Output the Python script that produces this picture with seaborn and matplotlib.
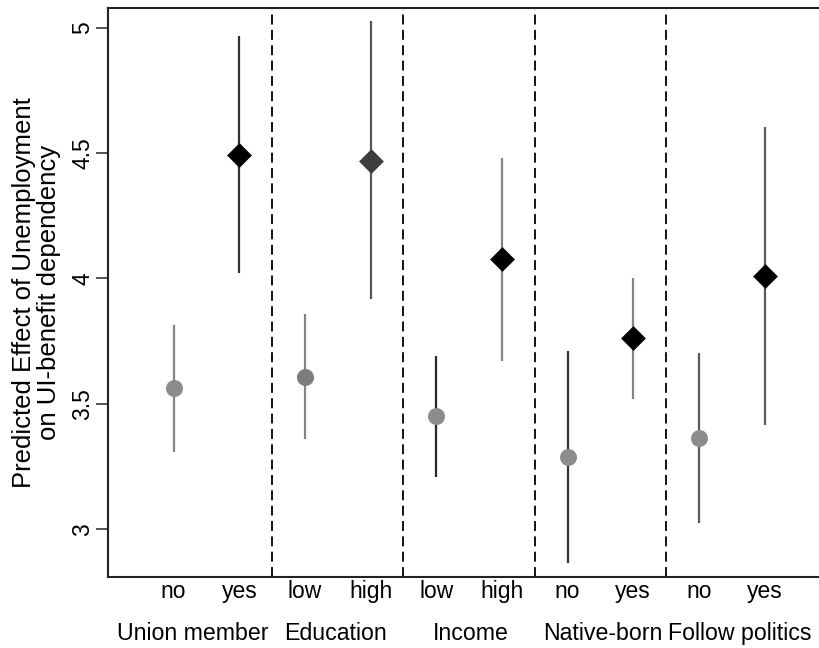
import numpy as np
import pandas as pd
import matplotlib
matplotlib.use("Agg")
import matplotlib.pyplot as plt
import matplotlib.transforms as mtransforms
import seaborn as sns

# Predicted effect of unemployment on UI-benefit dependency, by subgroup
groups = ["Union member", "Education", "Income", "Native-born", "Follow politics"]
levels = ["no", "yes", "low", "high", "low", "high", "no", "yes", "no", "yes"]
estimate = [3.563, 4.494, 3.607, 4.470, 3.451, 4.077, 3.289, 3.762, 3.363, 4.011]
ci_low = [3.307, 4.021, 3.359, 3.919, 3.210, 3.672, 2.867, 3.520, 3.024, 3.416]
ci_high = [3.816, 4.968, 3.858, 5.025, 3.692, 4.482, 3.709, 4.003, 3.702, 4.605]

# Styling per estimate
marker_kind = ["o", "D", "o", "D", "o", "D", "o", "D", "o", "D"]
marker_color = ["#8c8c8c", "#000000", "#7c7c7c", "#3d3d3d", "#8c8c8c",
                "#000000", "#8c8c8c", "#000000", "#8c8c8c", "#000000"]
line_color = ["#858585", "#333333", "#858585", "#555555", "#2a2a2a",
              "#858585", "#333333", "#858585", "#5a5a5a", "#5a5a5a"]
group_label_x = [1.29, 3.47, 5.52, 7.54, 9.62]

df = pd.DataFrame({
    "pos": np.arange(1, len(levels) + 1),
    "level": levels,
    "estimate": estimate,
    "lo": ci_low,
    "hi": ci_high,
    "marker": marker_kind,
    "mcolor": marker_color,
    "lcolor": line_color,
})

sns.set_style("white")
plt.rcParams["font.family"] = ["Liberation Sans", "DejaVu Sans"]
plt.rcParams["text.color"] = "black"
plt.rcParams["axes.labelcolor"] = "black"
plt.rcParams["xtick.color"] = "black"
plt.rcParams["ytick.color"] = "black"

fig = plt.figure(figsize=(8.19, 6.48), dpi=100)
ax = fig.add_axes([0.1319, 0.1096, 0.8681, 0.8788])

# Group separators
for xv in [2.5, 4.5, 6.5, 8.5]:
    ax.axvline(xv, color="black", linewidth=1.3, linestyle=(0, (5.5, 3)), zorder=1)

# Confidence intervals
for _, r in df.iterrows():
    ax.vlines(r["pos"], r["lo"], r["hi"], color=r["lcolor"], linewidth=1.6, zorder=2)

# Point estimates
for _, r in df.iterrows():
    size = 150 if r["marker"] == "o" else 160
    sns.scatterplot(x=[r["pos"]], y=[r["estimate"]], marker=r["marker"],
                    color=r["mcolor"], s=size, linewidth=0, ax=ax, zorder=3)

ax.set_xlim(0, 10.83)
ax.set_ylim(2.81, 5.08)
ax.set_yticks([3, 3.5, 4, 4.5, 5])
ax.set_yticklabels(["3", "3.5", "4", "4.5", "5"], rotation=90, va="center")
ax.set_xticks(df["pos"])
ax.set_xticklabels(df["level"])
ax.tick_params(axis="x", length=0, labelsize=16.5, pad=2)
ax.tick_params(axis="y", left=True, length=9, width=1.2, color="#333333",
               labelsize=16.5, pad=1)

ax.set_ylabel("Predicted Effect of Unemployment\non UI-benefit dependency",
              fontsize=18.5, labelpad=7, linespacing=1.05)
ax.set_xlabel("")

trans = mtransforms.blended_transform_factory(ax.transData, ax.transAxes)
for gx, g in zip(group_label_x, groups):
    ax.text(gx, -0.1, g, transform=trans, ha="center", va="center", fontsize=16.7)

for side in ["left", "bottom", "top"]:
    ax.spines[side].set_visible(True)
    ax.spines[side].set_color("#222222")
    ax.spines[side].set_linewidth(1.5)
ax.spines["right"].set_visible(False)

fig.savefig("out.png", dpi=100)
